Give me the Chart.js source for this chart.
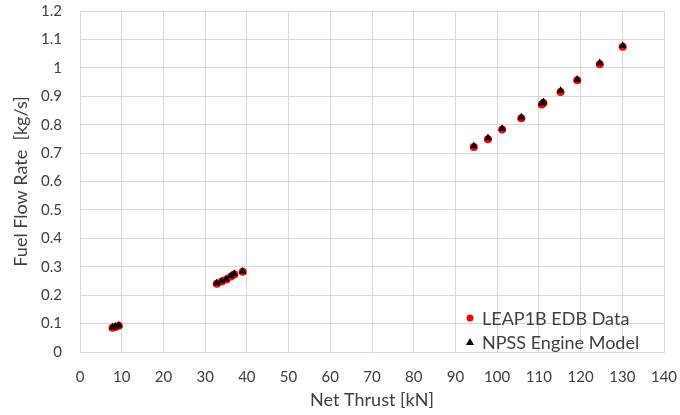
<!DOCTYPE html>
<html>
<head>
<meta charset="utf-8">
<script src="https://cdn.jsdelivr.net/npm/chart.js@4.4.0/dist/chart.umd.min.js"></script>
<style>
  html, body { margin: 0; padding: 0; background: #fff; }
  #wrap { width: 680px; height: 415px; }
</style>
</head>
<body>
<div id="wrap"><canvas id="fuelChart" width="680" height="415"></canvas></div>
<script>
// Net thrust [kN] vs fuel flow [kg/s]
const leapThrust = [7.8, 8.5, 9.3, 32.8, 34.0, 35.1, 36.2, 37.0, 39.0,
    94.4, 97.8, 101.2, 105.8, 110.7, 111.1, 115.2, 119.2, 124.6, 130.1];
const leapFuel = [0.085, 0.088, 0.092, 0.240, 0.248, 0.255, 0.266, 0.273, 0.282,
    0.721, 0.749, 0.783, 0.823, 0.871, 0.876, 0.915, 0.956, 1.013, 1.074];
const npssThrust = [7.8, 8.5, 9.3, 32.8, 34.0, 35.1, 36.2, 37.0, 39.0,
    94.4, 97.8, 101.2, 105.8, 110.7, 111.1, 115.2, 119.2, 124.6, 130.1];
const npssFuel = [0.087, 0.090, 0.094, 0.243, 0.250, 0.257, 0.268, 0.275, 0.284,
    0.725, 0.753, 0.786, 0.826, 0.875, 0.880, 0.919, 0.959, 1.017, 1.078];

const xTicks = [0, 140, 10];   // min, max, step
const yTicks = [0, 1.2, 0.1];

const legendLabels = ['LEAP1B EDB Data', 'NPSS Engine Model'];

const FONT = 'Lato, "Open Sans", sans-serif';
const TEXT = '#404040';
const GRID = '#d9d9d9';

function toPoints(xs, ys) {
    return xs.map((x, i) => ({ x: x, y: ys[i] }));
}

// legend sits inside the plot, bottom right
const insideLegend = {
    id: 'insideLegend',
    afterDraw(chart) {
        const ctx = chart.ctx;
        const area = chart.chartArea;
        const x0 = area.right - 194;
        const rows = [area.bottom - 34, area.bottom - 10];
        ctx.save();
        ctx.font = '18px ' + FONT;
        ctx.textBaseline = 'middle';
        // red dot
        ctx.beginPath();
        ctx.fillStyle = '#ff0000';
        ctx.arc(x0, rows[0], 3.5, 0, Math.PI * 2);
        ctx.fill();
        // black triangle
        ctx.beginPath();
        ctx.fillStyle = '#000';
        ctx.moveTo(x0, rows[1] - 4);
        ctx.lineTo(x0 + 4, rows[1] + 3);
        ctx.lineTo(x0 - 4, rows[1] + 3);
        ctx.closePath();
        ctx.fill();
        ctx.fillStyle = TEXT;
        ctx.fillText(legendLabels[0], x0 + 12, rows[0] + 1);
        ctx.fillText(legendLabels[1], x0 + 12, rows[1] + 1);
        ctx.restore();
    }
};

new Chart(document.getElementById('fuelChart'), {
    type: 'scatter',
    data: {
        datasets: [{
            label: legendLabels[0],
            data: toPoints(leapThrust, leapFuel),
            pointStyle: 'circle',
            pointRadius: 4,
            pointBackgroundColor: '#ff0000',
            pointBorderWidth: 0,
            order: 2
        }, {
            label: legendLabels[1],
            data: toPoints(npssThrust, npssFuel),
            pointStyle: 'triangle',
            pointRadius: 4.5,
            pointBackgroundColor: '#000000',
            pointBorderWidth: 0,
            order: 1
        }]
    },
    options: {
        responsive: false,
        animation: false,
        layout: { padding: { top: 11, right: 16, left: 10, bottom: 4 } },
        plugins: {
            legend: { display: false },
            tooltip: { enabled: false }
        },
        scales: {
            x: {
                type: 'linear',
                min: xTicks[0],
                max: xTicks[1],
                ticks: {
                    stepSize: xTicks[2],
                    color: TEXT,
                    font: { family: FONT, size: 15 },
                    padding: 16,
                    maxRotation: 0
                },
                grid: { color: GRID, drawTicks: false },
                border: { color: GRID },
                title: {
                    display: true,
                    text: 'Net Thrust [kN]',
                    color: TEXT,
                    font: { family: FONT, size: 18 },
                    padding: { top: 0, bottom: 0 }
                },
                afterFit(scale) {
                    scale.height = 59;
                    scale.paddingLeft = 0;
                    scale.paddingRight = 0;
                }
            },
            y: {
                min: yTicks[0],
                max: yTicks[1],
                ticks: {
                    stepSize: yTicks[2],
                    color: TEXT,
                    font: { family: FONT, size: 15 },
                    padding: 18,
                    callback: v => String(Number(v.toFixed(1)))
                },
                grid: { color: GRID, drawTicks: false },
                border: { color: GRID },
                title: {
                    display: true,
                    text: 'Fuel Flow Rate  [kg/s]',
                    color: TEXT,
                    font: { family: FONT, size: 18 },
                    padding: { top: 0, bottom: 4 }
                },
                afterFit(scale) {
                    scale.width = 70;
                    scale.paddingTop = 0;
                    scale.paddingBottom = 0;
                }
            }
        }
    },
    plugins: [insideLegend]
});
</script>
</body>
</html>
